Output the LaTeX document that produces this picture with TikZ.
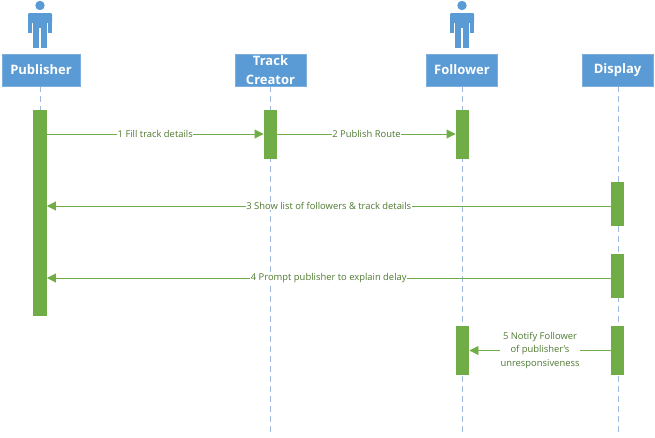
\documentclass[tikz,border=0pt]{standalone}
\usepackage{fontspec}
\setmainfont{Open Sans}
\usetikzlibrary{arrows.meta}
\definecolor{headblue}{HTML}{5B9BD5}
\definecolor{barnagreen}{HTML}{70AD47}
\definecolor{msgtext}{HTML}{4F7A32}
\definecolor{lifeblue}{HTML}{9DB7DD}
\tikzset{
  head/.style={fill=headblue, draw=headblue!80!white, line width=0.5pt, minimum width=71pt, minimum height=32pt,
    inner sep=0pt, text=white, font=\bfseries\fontsize{13}{16}\selectfont, align=center},
  bar/.style={fill=barnagreen, inner sep=0pt, minimum width=13.5pt},
  life/.style={draw=lifeblue, line width=0.8pt, dash pattern=on 6pt off 4pt},
  msg/.style={draw=barnagreen, line width=0.9pt, -{Triangle[length=9pt,width=9pt]}},
  lbl/.style={fill=white, inner sep=0.5pt, text=msgtext, font=\fontsize{9.4}{13.5}\selectfont, align=center},
  man/.pic={
    \fill[headblue] (0,-42.5) circle (4.7);
    \fill[headblue, rounded corners=1pt] (-12,-35) rectangle (12,-25);
    \fill[headblue] (-12,-27) rectangle (-7.6,-15);
    \fill[headblue] (7.6,-27) rectangle (12,-15);
    \fill[headblue] (-7,-27) rectangle (7,-20);
    \fill[headblue] (-7,-20) rectangle (-0.6,0);
    \fill[headblue] (0.6,-20) rectangle (7,0);
  }
}
\begin{document}
\begin{tikzpicture}[x=1pt,y=-1pt]
  \useasboundingbox (0,0) rectangle (655,437);
  % lifelines
  \coordinate (pubtop) at (40,86);
  \coordinate (pubend) at (40,110);
  \coordinate (tctop) at (270,86);
  \coordinate (tcend) at (270,435);
  \coordinate (foltop) at (462,86);
  \coordinate (folend) at (462,435);
  \coordinate (distop) at (618,86);
  \coordinate (disend) at (618,435);
  \draw[life] (pubtop) -- (pubend);
  \draw[life] (tctop) -- (tcend);
  \draw[life] (foltop) -- (folend);
  \draw[life] (distop) -- (disend);
  % people
  \pic at (40,48) {man};
  \pic at (462,48) {man};
  % heads
  \node[head, minimum width=78pt] (pub) at (41,70) {Publisher};
  \node[head] (tc) at (270.5,70) {Track\\[3pt]Creator};
  \node[head] (fol) at (462,70) {Follower};
  \node[head] (dis) at (617.5,70) {Display};
  % activations
  \node[bar, minimum height=206pt] (pubbar) at (40,213) {};
  \node[bar, minimum height=49pt] (tcbar) at (270.5,134.5) {};
  \node[bar, minimum height=49pt] (folbara) at (462.5,134.5) {};
  \node[bar, minimum height=44pt] (disbara) at (617.5,204) {};
  \node[bar, minimum height=44pt] (disbarb) at (617.5,276) {};
  \node[bar, minimum height=49pt] (folbarb) at (462.5,350.5) {};
  \node[bar, minimum height=49pt] (disbarc) at (617.5,350.5) {};
  % messages
  \draw[msg] (pubbar.east |- 0,134) -- node[lbl] {1 Fill track details} (tcbar.west |- 0,134);
  \draw[msg] (tcbar.east |- 0,134) -- node[lbl] {2 Publish Route} (folbara.west |- 0,134);
  \draw[msg] (disbara.west |- 0,206) -- node[lbl] {3 Show list of followers \& track details} (pubbar.east |- 0,206);
  \draw[msg] (disbarb.west |- 0,278) -- node[lbl] {4 Prompt publisher to explain delay} (pubbar.east |- 0,278);
  \draw[msg] (disbarc.west) -- node[lbl] {5 Notify Follower\\of publisher's\\unresponsiveness} (folbarb.east);
\end{tikzpicture}
\end{document}
